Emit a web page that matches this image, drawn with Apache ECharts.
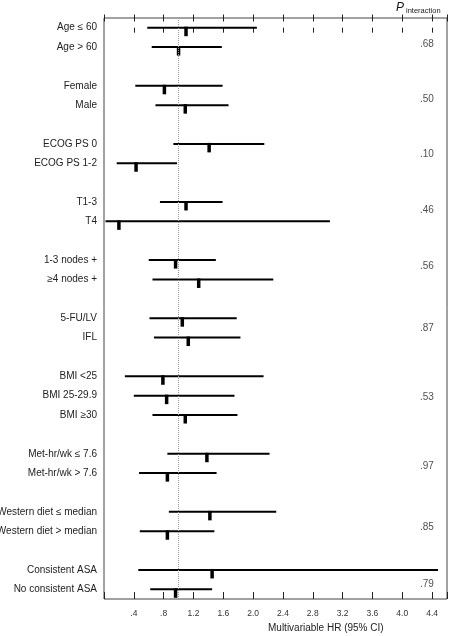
<!DOCTYPE html>
<html>
<head>
<meta charset="utf-8">
<script src="https://cdn.jsdelivr.net/npm/echarts@6/dist/echarts.min.js"></script>
<style>
html,body{margin:0;padding:0;background:#fff;}
#chart{width:449px;height:636px;}
</style>
</head>
<body>
<div id="chart"></div>
<script>
// Row labels ('' = spacer rows between subgroups)
var categories = [
  'Age \u2264 60', 'Age > 60', '',
  'Female', 'Male', '',
  'ECOG PS 0', 'ECOG PS 1-2', '',
  'T1-3', 'T4', '',
  '1-3 nodes +', '\u22654 nodes +', '',
  '5-FU/LV', 'IFL', '',
  'BMI <25', 'BMI 25-29.9', 'BMI \u226530', '',
  'Met-hr/wk \u2264 7.6', 'Met-hr/wk > 7.6', '',
  'Western diet \u2264 median', 'Western diet > median', '',
  'Consistent ASA', 'No consistent ASA'
];
// Hazard ratio estimates and 95% CI (null = spacer)
var hrEstimate = [1.10, 1.00, null, 0.81, 1.09, null, 1.41, 0.43, null, 1.10, 0.20, null,
  0.96, 1.27, null, 1.05, 1.13, null, 0.79, 0.84, 1.09, null, 1.38, 0.85, null, 1.42, 0.85, null, 1.45, 0.96];
var ciLower = [0.58, 0.64, null, 0.42, 0.69, null, 0.93, 0.17, null, 0.75, 0.02, null,
  0.60, 0.65, null, 0.61, 0.67, null, 0.28, 0.40, 0.65, null, 0.85, 0.47, null, 0.87, 0.48, null, 0.46, 0.62];
var ciUpper = [2.05, 1.58, null, 1.59, 1.67, null, 2.15, 0.98, null, 1.59, 3.03, null,
  1.50, 2.27, null, 1.78, 1.83, null, 2.14, 1.75, 1.79, null, 2.22, 1.51, null, 2.31, 1.48, null, 4.48, 1.45];
// P for interaction, and the row position (in row units) where each is printed
var pValues = ['.68', '.50', '.10', '.46', '.56', '.87', '.53', '.97', '.85', '.79'];
var pRowPos = [0.83, 3.70, 6.55, 9.44, 12.31, 15.54, 19.08, 22.64, 25.78, 28.74];
var pColumnX = 4.43;
// x-axis tick values and labels
var tickValues = [0.4, 0.8, 1.2, 1.6, 2.0, 2.4, 2.8, 3.2, 3.6, 4.0, 4.4];
var tickLabels = ['.4', '.8', '1.2', '1.6', '2.0', '2.4', '2.8', '3.2', '3.6', '4.0', '4.4'];
var referenceHR = 1.0;

var ciData = [];
for (var i = 0; i < categories.length; i++) {
  if (hrEstimate[i] != null) ciData.push([i, ciLower[i], ciUpper[i], hrEstimate[i]]);
}
var pData = pValues.map(function (p, k) { return [pColumnX, pRowPos[k], p]; });

function tickFmt(v) {
  for (var k = 0; k < tickValues.length; k++) {
    if (Math.abs(tickValues[k] - v) < 1e-6) return tickLabels[k];
  }
  return '';
}

var FONT = '"Liberation Sans", Arial, sans-serif';
var xCommon = { type: 'value', min: 0, max: 4.6, interval: 0.4, splitLine: { show: false } };
function xAxisDef(pos, inside, len, showLabel) {
  return Object.assign({}, xCommon, {
    position: pos,
    gridIndex: 0,
    axisLine: { show: false },
    axisTick: { show: true, inside: inside, length: len, lineStyle: { color: '#222', width: 1 } },
    axisLabel: { show: showLabel, formatter: tickFmt, fontSize: 8.5, color: '#333', fontFamily: FONT, margin: 10, showMaxLabel: false, showMinLabel: false }
  });
}

var chart = echarts.init(document.getElementById('chart'), null, { renderer: 'canvas' });
chart.setOption({
  animation: false,
  backgroundColor: '#fff',
  grid: { left: 104, right: 2, top: 18, bottom: 37, containLabel: false, outerBoundsMode: 'none', show: true, borderColor: '#444', borderWidth: 1, backgroundColor: 'transparent' },
  xAxis: [
    xAxisDef('bottom', false, 5, true),
    xAxisDef('bottom', true, 7, false),
    xAxisDef('top', false, 3.5, false),
    xAxisDef('top', true, 3.5, false)
  ],
  yAxis: [
    {
      type: 'category', data: categories, inverse: true, boundaryGap: true,
      axisLine: { show: false }, axisTick: { show: false }, splitLine: { show: false },
      axisLabel: { fontSize: 10, color: '#222', fontFamily: FONT, margin: 7, interval: 0 }
    },
    {
      type: 'value', min: -0.5, max: categories.length - 0.5, inverse: true, position: 'left',
      axisLine: { show: false }, axisTick: { show: false }, axisLabel: { show: false }, splitLine: { show: false }
    }
  ],
  graphic: [
    { type: 'text', left: 396, top: 2, style: { text: 'P', font: 'italic 12px ' + FONT, fill: '#111' } },
    { type: 'text', left: 406, top: 7, style: { text: 'interaction', font: '7.5px ' + FONT, fill: '#222' } },
    { type: 'text', left: 268, top: 623, style: { text: 'Multivariable HR (95% CI)', font: '10px ' + FONT, fill: '#222', textAlign: 'center' } }
  ],
  series: [
    {
      type: 'custom',
      xAxisIndex: 0, yAxisIndex: 0,
      data: ciData,
      renderItem: function (params, api) {
        var row = api.value(0);
        var p1 = api.coord([api.value(1), row]);
        var p2 = api.coord([api.value(2), row]);
        var pe = api.coord([api.value(3), row]);
        return {
          type: 'group',
          children: [
            { type: 'line', shape: { x1: p1[0], y1: p1[1], x2: p2[0], y2: p2[1] }, style: { stroke: '#000', lineWidth: 2 } },
            { type: 'rect', shape: { x: pe[0] - 1.75, y: p1[1] - 1, width: 3.5, height: 9.5 }, style: { fill: '#000' } }
          ]
        };
      },
      markLine: {
        silent: true, symbol: 'none', label: { show: false },
        lineStyle: { type: 'dotted', color: '#999', width: 1 },
        data: [{ xAxis: referenceHR }]
      },
      z: 3
    },
    {
      type: 'scatter',
      xAxisIndex: 0, yAxisIndex: 1,
      data: pData,
      symbolSize: 1,
      itemStyle: { color: 'rgba(0,0,0,0)' },
      label: {
        show: true, position: 'left', distance: 0,
        formatter: function (p) { return p.data[2]; },
        fontSize: 10, color: '#222', fontFamily: FONT
      },
      z: 4
    }
  ]
});
</script>
</body>
</html>
